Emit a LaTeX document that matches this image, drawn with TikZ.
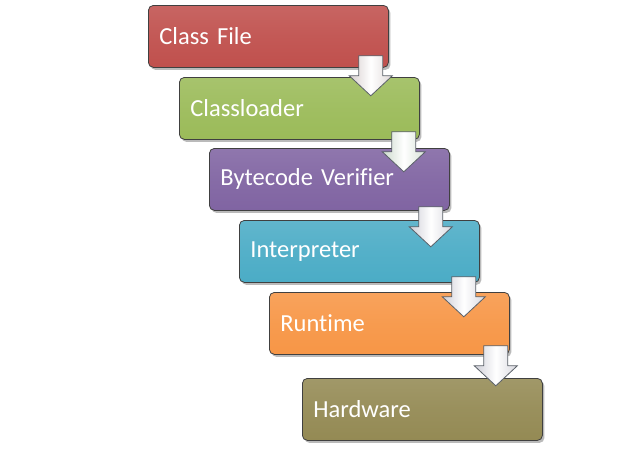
\documentclass[tikz,border=0pt]{standalone}
\usepackage{fontspec}
\setmainfont[Ligatures={NoCommon}]{Carlito}
\usetikzlibrary{shadows,calc}
\definecolor{cRed}{HTML}{C0504D}
\definecolor{cGreen}{HTML}{9BBB59}
\definecolor{cPurple}{HTML}{8064A2}
\definecolor{cCyan}{HTML}{4BACC6}
\definecolor{cOrange}{HTML}{F79646}
\definecolor{cOlive}{HTML}{948A54}
\definecolor{arrEdge}{HTML}{5A6068}
\colorlet{tintR}{red!10!gray!35}
\colorlet{tintG}{green!15!gray!35}
\colorlet{tintB}{blue!10!gray!35}
\tikzset{
  stagebox/.style={draw=black!75, line width=0.8pt, rounded corners=5pt,
    minimum width=240pt, minimum height=62pt, text width=218pt, align=left,
    inner xsep=11pt, anchor=north west, text=white,
    font=\fontsize{24.5}{28}\selectfont,
    top color=#1!88!white, bottom color=#1, middle color=#1!95!white,
    drop shadow={shadow xshift=2pt, shadow yshift=-2.5pt, opacity=0.45, fill=black!60}},
  pics/blockarrow/.style={code={
    \path[draw=arrEdge, line width=0.8pt, left color=#1, right color=#1!80!white, middle color=white]
      (-12,0) -- (12,0) -- (12,20) -- (21.5,20) -- (0,40) -- (-21.5,20) -- (-12,20) -- cycle;
  }}
}
\begin{document}
\begin{tikzpicture}[x=1pt,y=-1pt]
\useasboundingbox (0,0) rectangle (630,469);
\node[stagebox=cRed]    (b1) at (148,5)   {Class File};
\node[stagebox=cGreen]  (b2) at (179,77)  {Classloader};
\node[stagebox=cPurple] (b3) at (209,148) {Bytecode Verifier};
\node[stagebox=cCyan]   (b4) at (239,220) {Interpreter};
\node[stagebox=cOrange] (b5) at (269,292) {Runtime};
\node[stagebox=cOlive]  (b6) at (302,378) {Hardware};
\coordinate (a1) at ($(b1.south east)+(-18,-12)$);
\coordinate (a2) at ($(b2.south east)+(-16,-8)$);
\coordinate (a3) at ($(b3.south east)+(-19,-4)$);
\coordinate (a4) at ($(b4.south east)+(-16,-6)$);
\coordinate (a5) at ($(b5.south east)+(-14,-9)$);
\pic at (a1) {blockarrow=tintR};
\pic at (a2) {blockarrow=tintG};
\pic at (a3) {blockarrow=tintB};
\pic at (a4) {blockarrow=tintB};
\pic at (a5) {blockarrow=tintB};
\end{tikzpicture}
\end{document}
